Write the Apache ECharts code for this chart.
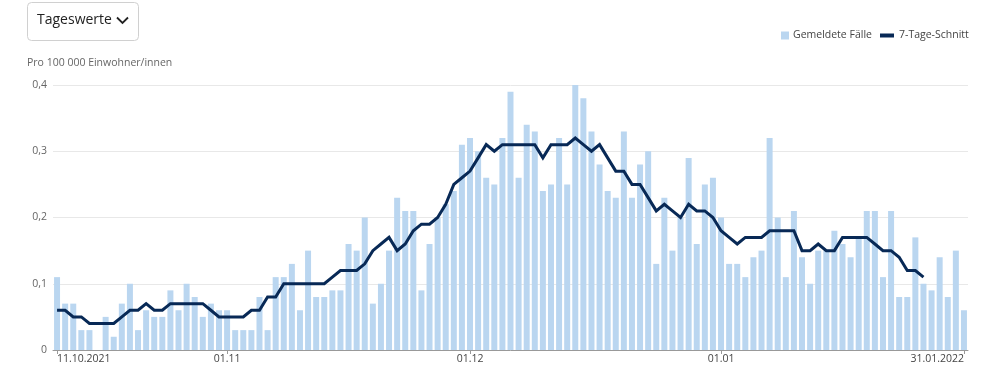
<!DOCTYPE html>
<html>
<head>
<meta charset="utf-8">
<script src="https://cdn.jsdelivr.net/npm/echarts@6/dist/echarts.min.js"></script>
<style>
html,body{margin:0;padding:0;background:#fff;}
#chart{width:994px;height:373px;}
</style>
</head>
<body>
<div id="chart"></div>
<script>
// Categories: daily dates 11.10.2021 .. 31.01.2022
const startDate = new Date(2021, 9, 11);
const dayCount = 113;
const categories = [];
for (let i = 0; i < dayCount; i++) {
  const d = new Date(startDate.getFullYear(), startDate.getMonth(), startDate.getDate() + i);
  const dd = String(d.getDate()).padStart(2, '0');
  const mm = String(d.getMonth() + 1).padStart(2, '0');
  categories.push(dd + '.' + mm + '.' + d.getFullYear());
}

const reportedCases = [
  0.11,0.07,0.07,0.03,0.03,0,0.05,0.02,0.07,0.10,
  0.03,0.06,0.05,0.05,0.09,0.06,0.10,0.08,0.05,0.07,
  0.06,0.06,0.03,0.03,0.03,0.08,0.03,0.11,0.11,0.13,
  0.06,0.15,0.08,0.08,0.09,0.09,0.16,0.15,0.20,0.07,
  0.10,0.15,0.23,0.21,0.21,0.09,0.16,0.20,0.22,0.24,
  0.31,0.32,0.30,0.26,0.25,0.32,0.39,0.26,0.34,0.33,
  0.24,0.25,0.32,0.25,0.40,0.38,0.33,0.28,0.24,0.23,
  0.33,0.23,0.28,0.30,0.13,0.23,0.15,0.20,0.29,0.16,
  0.25,0.26,0.20,0.13,0.13,0.11,0.14,0.15,0.32,0.20,
  0.11,0.21,0.14,0.10,0.15,0.15,0.18,0.16,0.14,0.17,
  0.21,0.21,0.11,0.21,0.08,0.08,0.17,0.10,0.09,0.14,
  0.08,0.15,0.06
];

const sevenDayAvg = [
  0.06,0.06,0.05,0.05,0.04,0.04,0.04,0.04,0.05,0.06,
  0.06,0.07,0.06,0.06,0.07,0.07,0.07,0.07,0.07,0.06,
  0.05,0.05,0.05,0.05,0.06,0.06,0.08,0.08,0.10,0.10,
  0.10,0.10,0.10,0.10,0.11,0.12,0.12,0.12,0.13,0.15,
  0.16,0.17,0.15,0.16,0.18,0.19,0.19,0.20,0.22,0.25,
  0.26,0.27,0.29,0.31,0.30,0.31,0.31,0.31,0.31,0.31,
  0.29,0.31,0.31,0.31,0.32,0.31,0.30,0.31,0.29,0.27,
  0.27,0.25,0.25,0.23,0.21,0.22,0.21,0.20,0.22,0.21,
  0.21,0.20,0.18,0.17,0.16,0.17,0.17,0.17,0.18,0.18,
  0.18,0.18,0.15,0.15,0.16,0.15,0.15,0.17,0.17,0.17,
  0.17,0.16,0.15,0.15,0.14,0.12,0.12,0.11,
  null,null,null,null,null
];

const xTickDates = ['11.10.2021','01.11.2021','01.12.2021','01.01.2022','31.01.2022'];
const xTickTexts = ['11.10.2021','01.11','01.12','01.01','31.01.2022'];
const yTicks = [0, 0.1, 0.2, 0.3, 0.4];

const FONT = '"Open Sans", "Noto Sans", sans-serif';

const xData = categories.map(function (c) {
  const k = xTickDates.indexOf(c);
  if (k === 0) return { value: c, textStyle: { align: 'left' } };
  if (k === xTickDates.length - 1) return { value: c, textStyle: { align: 'right' } };
  return c;
});
function isTick(idx) { return xTickDates.indexOf(categories[idx]) >= 0; }

const chart = echarts.init(document.getElementById('chart'), null, { renderer: 'canvas' });
chart.setOption({
  animation: false,
  textStyle: { fontFamily: FONT },
  title: {
    text: 'Pro 100 000 Einwohner/innen',
    left: 22, top: 53,
    textStyle: { fontSize: 10.5, fontWeight: 'normal', color: '#666', fontFamily: FONT }
  },
  legend: [
    {
      data: ['Gemeldete Fälle'],
      left: 776, top: 25,
      icon: 'rect', itemWidth: 8, itemHeight: 8, itemGap: 6,
      textStyle: { fontSize: 10.5, color: '#444', fontFamily: FONT, padding: [0,0,0,-1] }
    },
    {
      data: ['7-Tage-Schnitt'],
      left: 875, top: 25,
      icon: 'rect', itemWidth: 14, itemHeight: 4, itemGap: 6,
      textStyle: { fontSize: 10.5, color: '#444', fontFamily: FONT }
    }
  ],
  grid: { left: 53, right: 26, top: 85, bottom: 23, containLabel: false },
  xAxis: {
    type: 'category',
    data: xData,
    boundaryGap: true,
    axisLine: { show: true, lineStyle: { color: '#999', width: 1 } },
    axisTick: { show: true, alignWithLabel: true, interval: function (i) { return isTick(i); }, length: 4, lineStyle: { color: '#999' } },
    axisLabel: {
      interval: function (i) { return isTick(i); },
      hideOverlap: false,
      margin: 4,
      fontSize: 10.5,
      color: '#444',
      fontFamily: FONT,
      formatter: function (v) {
        const k = xTickDates.indexOf(v);
        return k >= 0 ? xTickTexts[k] : '';
      }
    },
    splitLine: { show: false }
  },
  yAxis: {
    type: 'value',
    min: yTicks[0], max: yTicks[yTicks.length - 1], interval: 0.1,
    axisLine: { show: false },
    axisTick: { show: false },
    axisLabel: {
      margin: 6, fontSize: 10.5, color: '#666', fontFamily: FONT,
      formatter: function (v) { return String(Math.round(v * 10) / 10).replace('.', ','); }
    },
    splitLine: { show: true, lineStyle: { color: '#e8e8e8', width: 1 } }
  },
  graphic: [
    { type: 'rect', left: 27, top: 2, shape: { width: 111, height: 38, r: 4 },
      style: { fill: '#fff', stroke: '#d0d0d0', lineWidth: 1 }, z: 10 },
    { type: 'text', left: 37, top: 13,
      style: { text: 'Tageswerte', font: '14px ' + FONT, fill: '#222' }, z: 11 },
    { type: 'polyline', shape: { points: [[117, 17.5], [122.5, 23], [128, 17.5]] },
      style: { stroke: '#222', lineWidth: 1.8, fill: null }, z: 11 }
  ],
  series: [
    {
      name: 'Gemeldete Fälle',
      type: 'bar',
      data: reportedCases,
      barCategoryGap: '26%',
      itemStyle: { color: '#bad6f0' },
      emphasis: { disabled: true }
    },
    {
      name: '7-Tage-Schnitt',
      type: 'line',
      data: sevenDayAvg,
      showSymbol: false,
      symbol: 'none',
      smooth: false,
      lineStyle: { color: '#082956', width: 3, join: 'miter' },
      itemStyle: { color: '#082956' },
      z: 3
    }
  ]
});
</script>
</body>
</html>
